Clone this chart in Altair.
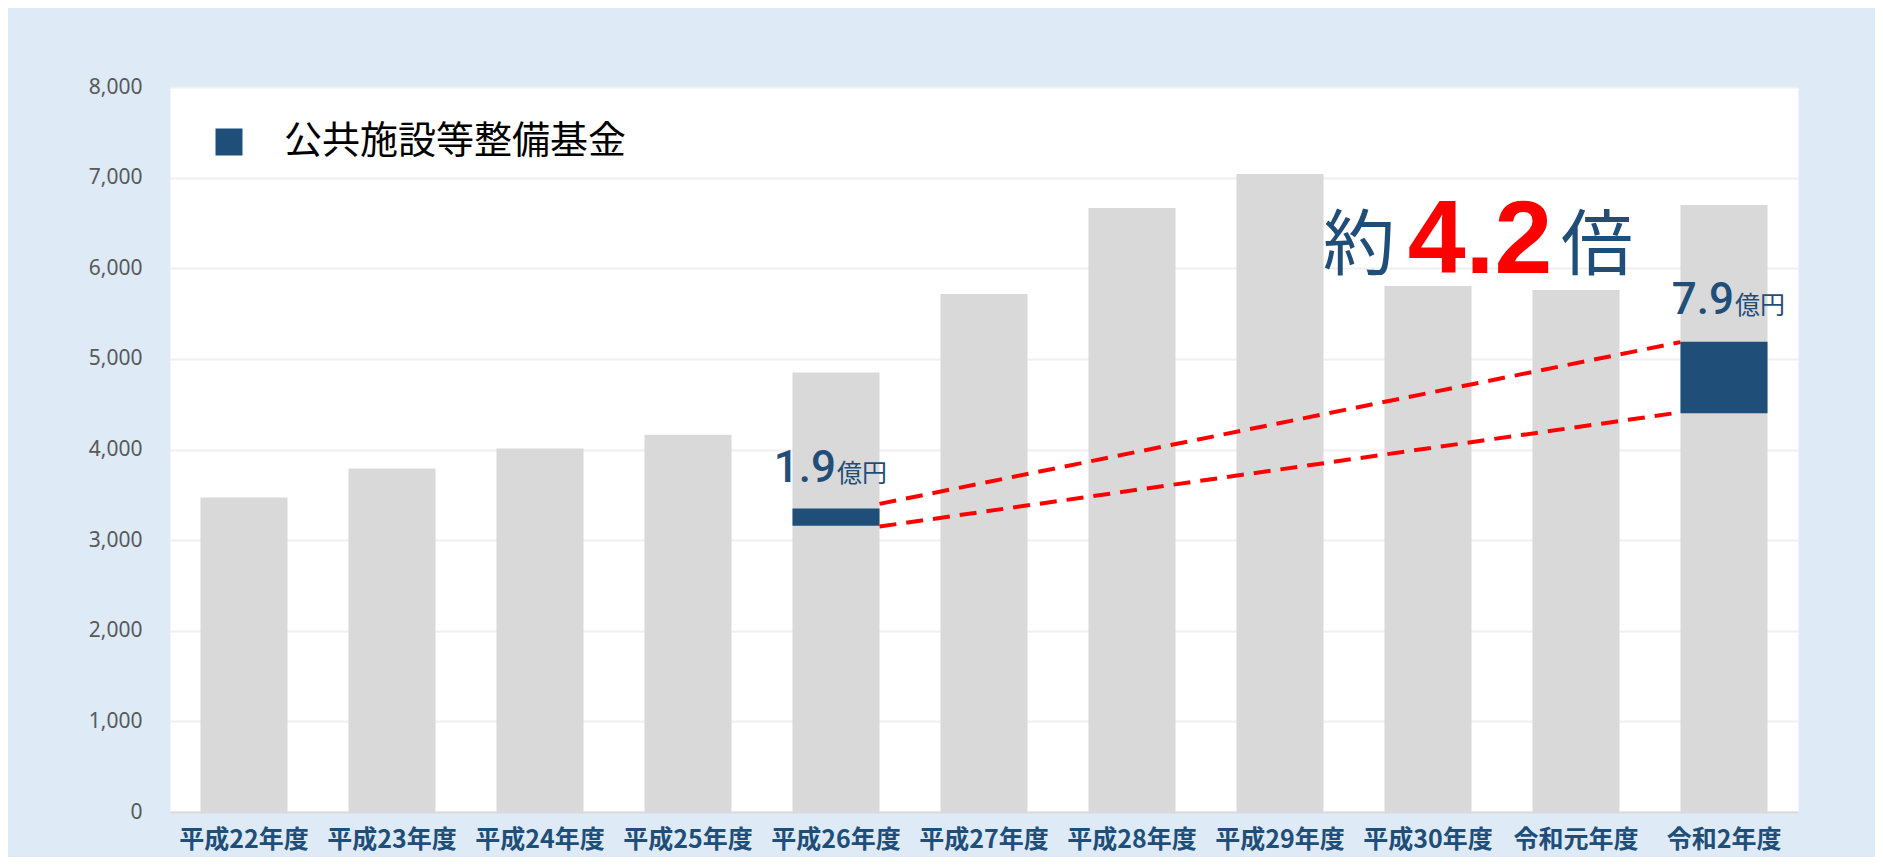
import altair as alt
import pandas as pd

# ---- data ----
categories = ["平成22年度", "平成23年度", "平成24年度", "平成25年度", "平成26年度",
              "平成27年度", "平成28年度", "平成29年度", "平成30年度", "令和元年度", "令和2年度"]
totals = [3470, 3790, 4012, 4162, 4851, 5715, 6664, 7040, 5803, 5759, 6697]

fund_name = "公共施設等整備基金"
fund_years = ["平成26年度", "令和2年度"]
fund_base = [3158, 4400]
fund_amount = [190, 790]

label_numbers = ["1.9", "7.9"]
label_unit = "億円"
label_values = [3640, 5494]

link_start = [3400, 3150]
link_end = [5185, 4410]

ratio_year = "令和元年度"
ratio_value = 5950
ratio_parts = ["約", "4.2", "倍"]

y_ticks = [0, 1000, 2000, 3000, 4000, 5000, 6000, 7000, 8000]

# ---- tables ----
bars = pd.DataFrame({"year": categories, "total": totals})
fund = pd.DataFrame({
    "year": fund_years,
    "base": fund_base,
    "top": [b + a for b, a in zip(fund_base, fund_amount)],
    "series": [fund_name] * len(fund_years),
})
labels = pd.DataFrame({"year": fund_years, "num": label_numbers,
                       "unit": [label_unit] * 2, "pos": label_values})
links = pd.DataFrame({"year": [fund_years[0]] * 2, "year_end": [fund_years[1]] * 2,
                      "y0": link_start, "y1": link_end})
ratio = pd.DataFrame({"year": [ratio_year], "pos": [ratio_value],
                      "a": [ratio_parts[0]], "b": [ratio_parts[1]], "c": [ratio_parts[2]]})

BLUE = "#1F4E79"
CJK = "Noto Sans CJK JP"

xscale = alt.Scale(domain=categories, paddingInner=0.412, paddingOuter=0.206)
yscale = alt.Scale(domain=[0, 8000], nice=False)

x_enc = alt.X("year:N", sort=categories, scale=xscale, title=None,
              axis=alt.Axis(labelAngle=0, labelFont=CJK, labelFontSize=25,
                            labelFontWeight="bold", labelColor=BLUE, labelPadding=15,
                            ticks=False, domain=True, domainColor="#D9D9D9",
                            domainWidth=2, grid=False))
y_enc = alt.Y("total:Q", scale=yscale, title=None,
              axis=alt.Axis(values=y_ticks, format=",.0f", labelFont="Noto Sans",
                            labelFontSize=21, labelColor="#595959", labelPadding=28,
                            ticks=False, domain=False, grid=True,
                            gridColor="#EFEFEF", gridWidth=2))

gray = alt.Chart(bars).mark_bar(color="#D9D9D9").encode(x=x_enc, y=y_enc)

blue = alt.Chart(fund).mark_bar().encode(
    x=alt.X("year:N", sort=categories, scale=xscale),
    y=alt.Y("base:Q", scale=yscale),
    y2="top:Q",
    color=alt.Color("series:N",
                    scale=alt.Scale(domain=[fund_name], range=[BLUE]),
                    legend=alt.Legend(orient="none", legendX=40, legendY=36, title=None,
                                      symbolType="square", symbolSize=729,
                                      symbolStrokeWidth=0, labelFont=CJK,
                                      labelFontSize=38, labelColor="#000000",
                                      labelOffset=36, labelLimit=800, padding=0)),
)

lines = alt.Chart(links).mark_rule(color="#FF0000", strokeWidth=4, strokeDash=[17, 10],
                                   xOffset=43.5, x2Offset=-43.5).encode(
    x=alt.X("year:N", sort=categories, scale=xscale),
    x2="year_end:N",
    y=alt.Y("y0:Q", scale=yscale),
    y2="y1:Q",
)

num_text = alt.Chart(labels).mark_text(align="right", baseline="alphabetic",
                                       font="Roboto", fontWeight=500, fontSize=44, color=BLUE,
                                       dx=alt.expr("datum.year == '令和2年度' ? 10 : 0")).encode(
    x=alt.X("year:N", sort=categories, scale=xscale),
    y=alt.Y("pos:Q", scale=yscale),
    text="num:N",
)
unit_text = alt.Chart(labels).mark_text(align="left", baseline="alphabetic",
                                        font=CJK, fontSize=25, color=BLUE,
                                        dx=alt.expr("datum.year == '令和2年度' ? 11 : 1")).encode(
    x=alt.X("year:N", sort=categories, scale=xscale),
    y=alt.Y("pos:Q", scale=yscale),
    text="unit:N",
)

r_enc = dict(x=alt.X("year:N", sort=categories, scale=xscale),
             y=alt.Y("pos:Q", scale=yscale))
r1 = alt.Chart(ratio).mark_text(align="center", baseline="alphabetic", font=CJK,
                                fontSize=72, color=BLUE, dx=-217, dy=-4).encode(text="a:N", **r_enc)
r2 = alt.Chart(ratio).mark_text(align="center", baseline="alphabetic", font="Liberation Sans",
                                fontWeight="bold", fontSize=104, color="#FF0000",
                                dx=-96).encode(text="b:N", **r_enc)
r3 = alt.Chart(ratio).mark_text(align="center", baseline="alphabetic", font=CJK,
                                fontSize=72, color=BLUE, dx=21, dy=-4).encode(text="c:N", **r_enc)

chart = alt.layer(gray, blue, lines, num_text, unit_text, r1, r2, r3).properties(
    width=1628, height=725,
    background="#DEEAF6",
    padding={"left": 162, "top": 79, "right": 77, "bottom": 45},
    autosize=alt.AutoSizeParams(type="none"),
).configure_view(fill="white", stroke="transparent")

chart.save("out.html", embed_options={"renderer": "svg", "actions": False})
